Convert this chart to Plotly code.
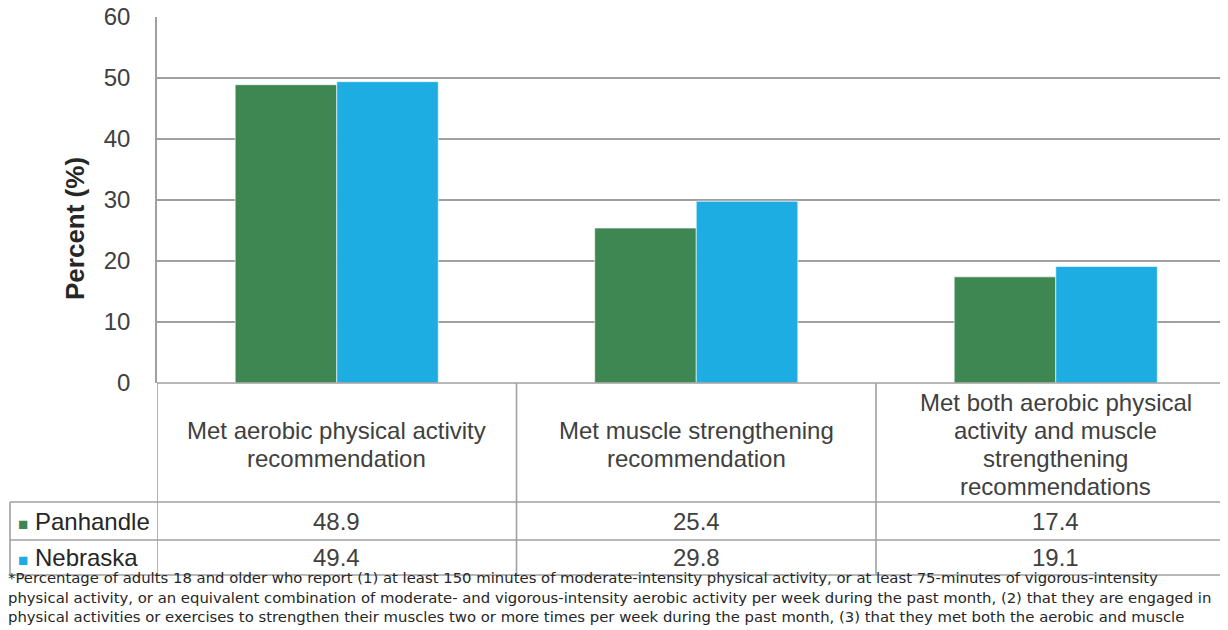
import plotly.graph_objects as go

categories = [
    "Met aerobic physical activity<br>recommendation",
    "Met muscle strengthening<br>recommendation",
    "Met both aerobic physical<br>activity and muscle<br>strengthening<br>recommendations",
]
series_names = ["Panhandle", "Nebraska"]
panhandle = [48.9, 25.4, 17.4]
nebraska = [49.4, 29.8, 19.1]
colors = ["#3E8753", "#1EADE3"]
y_ticks = [0, 10, 20, 30, 40, 50, 60]
y_title = "Percent (%)"
footnote_lines = [
    "*Percentage of adults 18 and older who report (1) at least 150 minutes of moderate-intensity physical activity, or at least 75-minutes of vigorous-intensity",
    "physical activity, or an equivalent combination of moderate- and vigorous-intensity aerobic activity per week during the past month, (2) that they are engaged in",
    "physical activities or exercises to strengthen their muscles two or more times per week during the past month, (3) that they met both the aerobic and muscle",
]

# page body has an 8px margin; figure sized to fit the window
OFF = 8
W, H = 1228 - OFF, 630 - OFF
ML, MT, MB = 157 - OFF, 17 - OFF, 247
PW = W - ML
PH = H - MT - MB
CATW = 359.5


def px(sx):
    # screen x -> paper x
    return (sx - OFF - ML) / PW


def py(sy):
    # screen y -> paper y
    return (H - MB - (sy - OFF)) / PH


TXT = "#404040"
GRID = "#A0A0A0"
FONT = "Liberation Sans, Arial, sans-serif"

xs = list(range(len(categories)))
fig = go.Figure()
for name, vals, col in zip(series_names, [panhandle, nebraska], colors):
    fig.add_trace(go.Bar(x=xs, y=vals, name=name,
                         marker=dict(color=col, line=dict(color="white", width=0.6)),
                         showlegend=False))

fig.update_layout(
    width=W, height=H,
    margin=dict(l=ML, r=0, t=MT, b=MB, autoexpand=False),
    paper_bgcolor="white", plot_bgcolor="white",
    barmode="group", bargap=0.435, bargroupgap=0.0,
    font=dict(family=FONT, color=TXT, size=24),
    xaxis=dict(range=[-0.5, -0.5 + PW / CATW], showticklabels=False, showgrid=False,
               zeroline=False, ticks="", fixedrange=True, automargin=False),
    yaxis=dict(range=[0, 60], tickvals=y_ticks, showgrid=True, gridcolor=GRID, gridwidth=1.6,
               zeroline=False, showline=True, linecolor=GRID, linewidth=1.6, ticks="",
               automargin=False,
               ticklabelstandoff=20, ticklabeloverflow="allow", tickfont=dict(size=24, color=TXT)),
)

shapes = []
lw = 1.6
shapes.append(dict(type="line", xref="paper", yref="paper", x0=0, x1=1, y0=py(383), y1=py(383),
                   line=dict(color=GRID, width=lw)))
for yy in [502, 540, 575]:
    shapes.append(dict(type="line", xref="paper", yref="paper", x0=px(10), x1=1, y0=py(yy), y1=py(yy),
                       line=dict(color=GRID, width=lw)))
shapes.append(dict(type="line", xref="paper", yref="paper", x0=px(10), x1=px(10), y0=py(502), y1=py(575),
                   line=dict(color=GRID, width=lw)))
for xb in [-0.5, 0.5, 1.5]:
    shapes.append(dict(type="line", xref="x", yref="paper", x0=xb, x1=xb, y0=py(383), y1=py(575),
                       line=dict(color=GRID, width=lw)))

ann = []
# y-axis title (placed as an annotation to match its offset position)
ann.append(dict(xref="paper", yref="paper", x=px(75), y=py(229), text=f"<b>{y_title}</b>", textangle=-90,
                showarrow=False, xanchor="center", yanchor="middle",
                font=dict(size=26, color="#262626")))
LINE_SP = 28
for i, c in enumerate(categories):
    parts = c.split("<br>")
    n = len(parts)
    for k, part in enumerate(parts):
        ann.append(dict(xref="x", yref="paper", x=i, y=py(444 + (k - (n - 1) / 2) * LINE_SP), text=part,
                        showarrow=False, xanchor="center", yanchor="middle", align="center",
                        font=dict(size=24, color=TXT)))
row_y = [521, 557]
for name, vals, col, ry in zip(series_names, [panhandle, nebraska], colors, row_y):
    ann.append(dict(xref="paper", yref="paper", x=px(16), y=py(ry), showarrow=False,
                    text=f"<span style='color:{col};font-size:17px'>■</span> {name}",
                    xanchor="left", yanchor="middle", font=dict(size=24, color="#262626")))
    for i, v in enumerate(vals):
        ann.append(dict(xref="x", yref="paper", x=i, y=py(ry), text=f"{v:.1f}", showarrow=False,
                        xanchor="center", yanchor="middle", font=dict(size=24, color=TXT)))
for k, line in enumerate(footnote_lines):
    ann.append(dict(xref="paper", yref="paper", x=px(OFF) - 2 / PW, y=py(578 + 19.5 * k), text=line,
                    showarrow=False, xanchor="left", yanchor="middle",
                    font=dict(family="DejaVu Sans, sans-serif", size=14.85, color="#262626")))

fig.update_layout(shapes=shapes, annotations=ann)
fig.write_html("out.html")
